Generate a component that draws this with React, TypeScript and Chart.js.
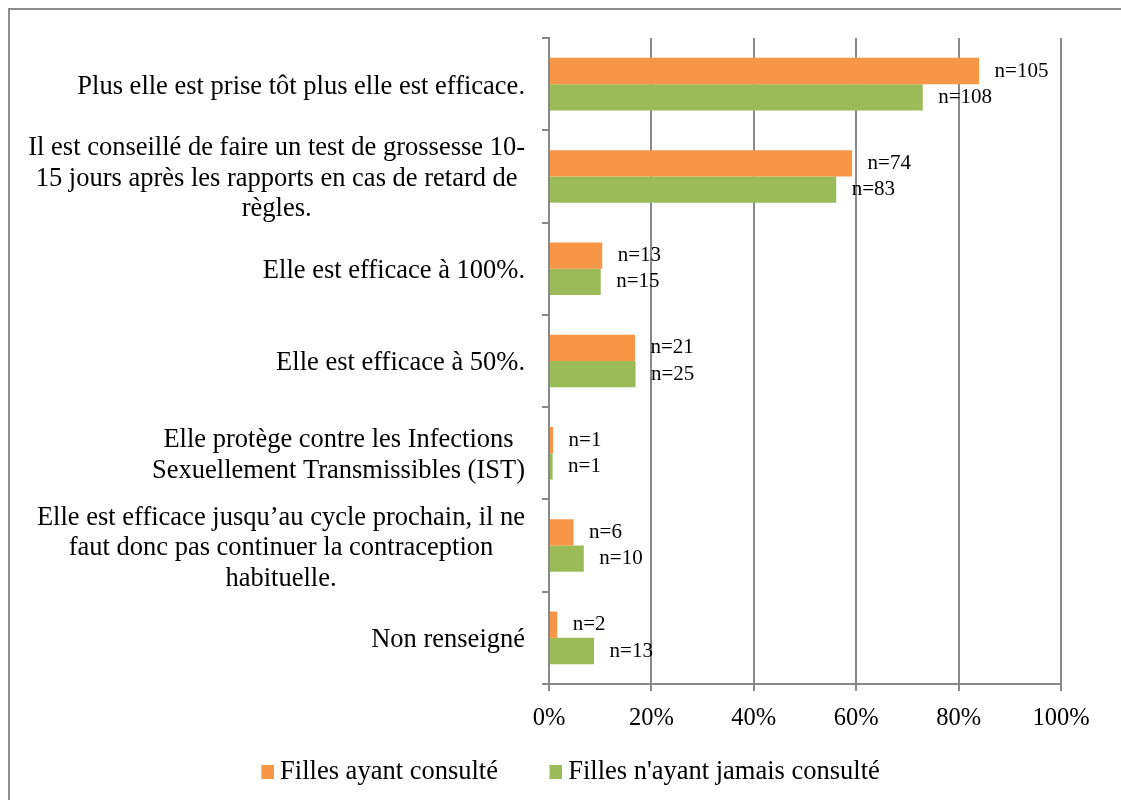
import React, { useEffect, useRef } from "react";
import { Chart, registerables } from "chart.js";

Chart.register(...registerables);

const categories: (string | string[])[] = [
  "Plus elle est prise tôt plus elle est efficace.",
  [
    "Il est conseillé de faire un test de grossesse 10-",
    "15 jours après les rapports en cas de retard de",
    "règles.",
  ],
  "Elle est efficace à 100%.",
  "Elle est efficace à 50%.",
  ["Elle protège contre les Infections", "Sexuellement Transmissibles (IST)"],
  [
    "Elle est efficace jusqu’au cycle prochain, il ne",
    "faut donc pas continuer la contraception",
    "habituelle.",
  ],
  "Non renseigné",
];

const seriesNames = ["Filles ayant consulté", "Filles n'ayant jamais consulté"];
const consultedPct = [84.0, 59.2, 10.4, 16.8, 0.8, 4.8, 1.6];
const neverPct = [73.0, 56.1, 10.1, 16.9, 0.7, 6.8, 8.8];
const consultedN = [105, 74, 13, 21, 1, 6, 2];
const neverN = [108, 83, 15, 25, 1, 10, 13];
const xMin = 0;
const xMax = 100;
const xStep = 20;

const FONT = "'Liberation Serif', 'Times New Roman', serif";
const ORANGE = "#F79646";
const GREEN = "#9BBB59";
const GRID = "#898989";
const seriesColors = [ORANGE, GREEN];

// legend swatch: a small square placed at the right end of a wider transparent image
function makeSwatch(color: string) {
  const c = document.createElement("canvas");
  c.width = 44;
  c.height = 14;
  const g = c.getContext("2d");
  if (g) {
    g.fillStyle = color;
    g.fillRect(44 - 13, 0, 13, 14);
  }
  return c;
}

const categoryLabelPlugin = {
  id: "categoryLabels",
  afterDraw(chart: any) {
    const ctx = chart.ctx;
    const yScale = chart.scales.y;
    ctx.save();
    ctx.font = `26.5px ${FONT}`;
    ctx.fillStyle = "#000";
    ctx.textAlign = "center";
    ctx.textBaseline = "middle";
    const right = yScale.right - 24;
    const lineH = 30.5;
    categories.forEach((lab, i) => {
      const lines = Array.isArray(lab) ? lab : [lab];
      const w = Math.max(...lines.map((l) => ctx.measureText(l).width));
      const cx = right - w / 2;
      const cy = yScale.getPixelForValue(i) + 2.5;
      lines.forEach((l, j) => {
        ctx.fillText(l, cx, cy + (j - (lines.length - 1) / 2) * lineH);
      });
    });
    ctx.restore();
  },
};

const countLabelPlugin = {
  id: "countLabels",
  afterDatasetsDraw(chart: any) {
    const ctx = chart.ctx;
    ctx.save();
    ctx.font = `21px ${FONT}`;
    ctx.fillStyle = "#000";
    ctx.textAlign = "left";
    ctx.textBaseline = "middle";
    const counts = [consultedN, neverN];
    chart.data.datasets.forEach((_ds: any, di: number) => {
      const meta = chart.getDatasetMeta(di);
      meta.data.forEach((bar: any, i: number) => {
        ctx.fillText("n=" + counts[di][i], bar.x + 15.5, bar.y);
      });
    });
    ctx.restore();
  },
};

export default function App() {
  const canvasRef = useRef<HTMLCanvasElement | null>(null);

  useEffect(() => {
    document.body.style.margin = "0";
    document.documentElement.style.overflow = "hidden";
    if (!canvasRef.current) return;
    const swatches = seriesColors.map(makeSwatch);
    const chart = new Chart(canvasRef.current, {
      type: "bar",
      data: {
        labels: categories.map((c) => (Array.isArray(c) ? c.join(" ") : c)),
        datasets: [
          {
            label: seriesNames[0],
            data: consultedPct,
            backgroundColor: ORANGE,
            borderWidth: 0,
          },
          {
            label: seriesNames[1],
            data: neverPct,
            backgroundColor: GREEN,
            borderWidth: 0,
          },
        ],
      },
      options: {
        indexAxis: "y",
        responsive: false,
        animation: false,
        categoryPercentage: 0.57,
        barPercentage: 1.0,
        layout: { padding: { left: 46.7, right: 60, top: 28, bottom: 4.5 } },
        scales: {
          x: {
            type: "linear",
            min: xMin,
            max: xMax,
            ticks: {
              stepSize: xStep,
              callback: (v: any) => v + "%",
              font: { family: FONT, size: 24.5 },
              color: "#000",
              padding: 13,
              maxRotation: 0,
            },
            grid: { color: GRID, lineWidth: 2, tickLength: 7, drawTicks: true },
            border: { display: true, color: GRID, width: 2 },
            afterFit: (s: any) => {
              s.height = 47;
            },
          },
          y: {
            type: "category",
            ticks: { display: false },
            grid: {
              drawOnChartArea: false,
              drawTicks: true,
              tickLength: 7,
              color: GRID,
              lineWidth: 2,
              offset: true,
            },
            border: { display: true, color: GRID, width: 2 },
            afterFit: (s: any) => {
              s.width = 492.3;
            },
          },
        },
        plugins: {
          legend: {
            position: "bottom",
            labels: {
              font: { family: FONT, size: 26.5 },
              color: "#000",
              usePointStyle: true,
              pointStyleWidth: 29,
              boxHeight: 14,
              padding: 28,
              generateLabels: (ch: any) =>
                seriesNames.map((name, i) => ({
                  text: name,
                  fillStyle: seriesColors[i],
                  strokeStyle: seriesColors[i],
                  lineWidth: 0,
                  pointStyle: swatches[i],
                  hidden: !ch.isDatasetVisible(i),
                  datasetIndex: i,
                  fontColor: "#000",
                })),
            },
          },
          tooltip: { enabled: false },
        },
      },
      plugins: [categoryLabelPlugin, countLabelPlugin],
    } as any);
    return () => chart.destroy();
  }, []);

  return (
    <div
      style={{
        width: 1121,
        height: 800,
        paddingLeft: 8,
        paddingTop: 8,
        boxSizing: "border-box",
        overflow: "hidden",
        background: "#fff",
      }}
    >
      <div
        style={{
          width: 1125,
          height: 800,
          boxSizing: "border-box",
          borderTop: "2px solid #8e8e8e",
          borderLeft: "2px solid #8e8e8e",
          background: "#fff",
        }}
      >
        <canvas
          ref={canvasRef}
          width={1111}
          height={790}
          style={{ display: "block", width: 1111, height: 790 }}
        />
      </div>
    </div>
  );
}
